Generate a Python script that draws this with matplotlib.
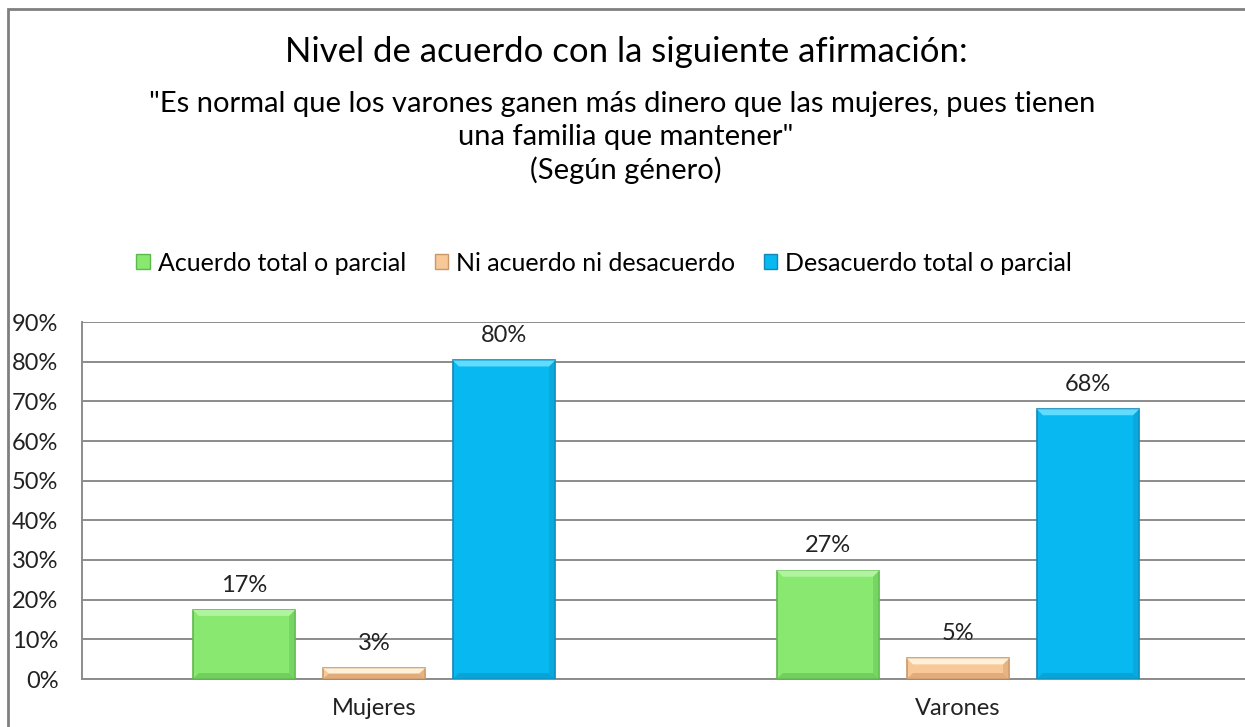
import matplotlib
matplotlib.use("Agg")
import matplotlib.pyplot as plt
from matplotlib.patches import Polygon, Patch, Rectangle
import numpy as np

plt.rcParams['font.family'] = ['Lato', 'DejaVu Sans']

# data
categories = ["Mujeres", "Varones"]
series = ["Acuerdo total o parcial", "Ni acuerdo ni desacuerdo", "Desacuerdo total o parcial"]
acuerdo = [17.4, 27.3]
neutral = [2.7, 5.2]
desacuerdo = [80.3, 68.0]
yticks = [0, 10, 20, 30, 40, 50, 60, 70, 80, 90]

colors = ["#88E870", "#F8C898", "#08B8F0"]
edges = ["#5FB84C", "#C89868", "#1088B8"]
light = ["#B0F4A0", "#FFF0D8", "#60DCFF"]
dark = ["#68C458", "#D8A070", "#0A9CCC"]

W, H = 1245, 727
fig = plt.figure(figsize=(W / 100, H / 100), dpi=100)
ax = fig.add_axes([82 / W, 1 - 679 / H, 1 - 82 / W, (679 - 322) / H])

x = np.arange(len(categories))
offset = 0.2226
width = 0.175
vals = [acuerdo, neutral, desacuerdo]
xlim = (-0.5, (W - 82) / 584 - 0.5)
ylim = (0, 90)
ax.set_xlim(*xlim)
ax.set_ylim(*ylim)

# px -> data
dxp = (xlim[1] - xlim[0]) / (W - 82)
dyp = (ylim[1] - ylim[0]) / (679 - 322)

for i, v in enumerate(vals):
    pos = x + (i - 1) * offset
    ax.bar(pos, v, width, color=colors[i], edgecolor=edges[i], linewidth=1.2, zorder=3)
    for p, h in zip(pos, v):
        x0, x1 = p - width / 2, p + width / 2
        b = 6
        dx = b * dxp
        dy = min(b * dyp, h / 2)
        # bevel: top light, bottom/right darker
        ax.add_patch(Polygon([(x0, h), (x1, h), (x1 - dx, h - dy), (x0 + dx, h - dy)],
                             closed=True, facecolor=light[i], edgecolor='none', zorder=4))
        ax.add_patch(Polygon([(x0, 0), (x1, 0), (x1 - dx, dy), (x0 + dx, dy)],
                             closed=True, facecolor=dark[i], edgecolor='none', alpha=0.7, zorder=4))
        ax.add_patch(Polygon([(x1, 0), (x1, h), (x1 - dx, h - dy), (x1 - dx, dy)],
                             closed=True, facecolor=dark[i], edgecolor='none', alpha=0.5, zorder=4))
        ax.text(p, h + 3.6, f"{h:.0f}%", ha='center', va='bottom', fontsize=17, color='#222222', zorder=5)

ax.set_yticks(yticks)
ax.set_yticklabels([f"{t}%" for t in yticks], fontsize=17, color='#222222')
ax.set_xticks(x)
ax.set_xticklabels(categories, fontsize=17, color='#222222')
ax.tick_params(axis='y', length=0, pad=17)
ax.tick_params(axis='x', length=0, pad=14)
ax.grid(axis='y', color='#8C8C8C', linewidth=1.4, zorder=0)
for s in ['top', 'right']:
    ax.spines[s].set_visible(False)
ax.spines['left'].set_color('#8C8C8C')
ax.spines['left'].set_linewidth(1.4)
ax.spines['bottom'].set_color('#8C8C8C')
ax.spines['bottom'].set_linewidth(1.4)

# titles
cx = 626 / W
fig.text(cx, 1 - 52 / H, "Nivel de acuerdo con la siguiente afirmación:", ha='center', va='center', fontsize=25)
fig.text(cx - 4 / W, 1 - 104 / H, "\"Es normal que los varones ganen más dinero que las mujeres, pues tienen",
         ha='center', va='center', fontsize=21)
fig.text(cx, 1 - 137 / H, "una familia que mantener\"", ha='center', va='center', fontsize=21)
fig.text(cx, 1 - 170 / H, "(Según género)", ha='center', va='center', fontsize=21)

handles = [Patch(facecolor=colors[i], edgecolor=edges[i]) for i in range(3)]
fig.legend(handles, series, loc='center', bbox_to_anchor=(604 / W, 1 - 263 / H), ncol=3, frameon=False,
           fontsize=18, handlelength=0.55, handleheight=0.55, handletextpad=0.3, columnspacing=1.15)

# chart border
fig.patches.append(Rectangle((8 / W, -0.1), 1.2, 1 - 9 / H + 0.1, transform=fig.transFigure,
                             fill=False, edgecolor='#808080', linewidth=2))

fig.savefig("out.png", dpi=100)
